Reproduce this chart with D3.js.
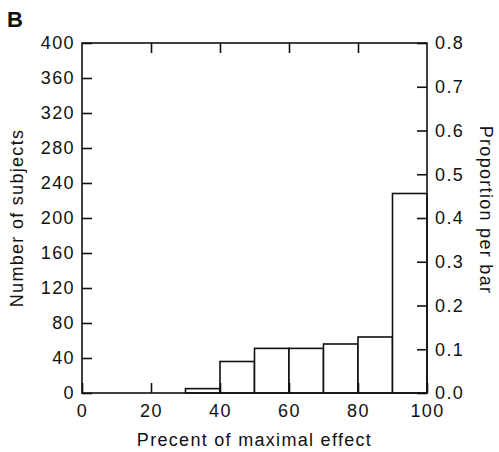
<!DOCTYPE html>
<html>
<head>
<meta charset="utf-8">
<script src="https://cdn.jsdelivr.net/npm/d3@7"></script>
<style>
  html, body { margin: 0; padding: 0; background: #fff; }
  svg { display: block; }
  .tick text { font-family: "Liberation Sans", Arial, sans-serif; font-size: 18px; letter-spacing: 1.4px; fill: #111; }
  .axis-title { font-family: "Liberation Sans", Arial, sans-serif; font-size: 18px; letter-spacing: 1.3px; fill: #111; }
</style>
</head>
<body>
<script>
// Histogram bins (percent of maximal effect) and subject counts per bin
const binStarts = [0, 10, 20, 30, 40, 50, 60, 70, 80, 90];
const binWidth = 10;
const counts = [0, 0, 0, 5, 36, 51, 51, 56, 64, 228];

// Tick values
const xTicks = [0, 20, 40, 60, 80, 100];
const yTicks = [0, 40, 80, 120, 160, 200, 240, 280, 320, 360, 400];
const propTicks = [0, 0.1, 0.2, 0.3, 0.4, 0.5, 0.6, 0.7, 0.8];

const W = 499, H = 452;
const margin = { top: 43, right: 72, bottom: 59, left: 82 };
const iw = W - margin.left - margin.right;
const ih = H - margin.top - margin.bottom;

const svg = d3.select("body").append("svg").attr("width", W).attr("height", H);
const g = svg.append("g").attr("transform", `translate(${margin.left},${margin.top})`);

const x = d3.scaleLinear().domain([0, 100]).range([0, iw]);
const y = d3.scaleLinear().domain([0, 400]).range([ih, 0]);
const yProp = d3.scaleLinear().domain([0, 0.8]).range([ih, 0]);

const stroke = "#111";
const sw = 1.6;

// Bars
g.selectAll("rect.bar")
  .data(binStarts.map((s, i) => ({ s, c: counts[i] })).filter(d => d.c > 0))
  .join("rect")
  .attr("class", "bar")
  .attr("x", d => x(d.s))
  .attr("width", d => x(d.s + binWidth) - x(d.s))
  .attr("y", d => y(d.c))
  .attr("height", d => y(0) - y(d.c))
  .attr("fill", "#fff")
  .attr("stroke", stroke)
  .attr("stroke-width", sw);

// Axes with inward ticks
function styleAxis(sel) {
  sel.select(".domain").remove();
  sel.selectAll(".tick line").attr("stroke", stroke).attr("stroke-width", sw);
}

g.append("g")
  .call(d3.axisLeft(y).tickValues(yTicks).tickSize(-10).tickPadding(7).tickFormat(d3.format("d")))
  .call(styleAxis);

g.append("g")
  .attr("transform", `translate(${iw},0)`)
  .call(d3.axisRight(yProp).tickValues(propTicks).tickSize(-10).tickPadding(8).tickFormat(d3.format(".1f")))
  .call(styleAxis);

g.append("g")
  .attr("transform", `translate(0,${ih})`)
  .call(d3.axisBottom(x).tickValues(xTicks).tickSize(-10).tickPadding(11).tickFormat(d3.format("d")))
  .call(styleAxis);

g.append("g")
  .call(d3.axisTop(x).tickValues(xTicks.slice(1, -1)).tickSize(-10).tickFormat(""))
  .call(styleAxis);

// Frame
g.append("rect")
  .attr("x", 0).attr("y", 0).attr("width", iw).attr("height", ih)
  .attr("fill", "none").attr("stroke", stroke).attr("stroke-width", sw);

// Titles
svg.append("text").attr("class", "axis-title")
  .attr("x", margin.left + iw / 2).attr("y", 446)
  .attr("text-anchor", "middle")
  .text("Precent of maximal effect");

svg.append("text").attr("class", "axis-title")
  .attr("transform", `translate(23,${margin.top + ih / 2}) rotate(-90)`)
  .attr("text-anchor", "middle")
  .text("Number of subjects");

svg.append("text").attr("class", "axis-title")
  .attr("transform", `translate(480,${margin.top + ih / 2 - 8}) rotate(90)`)
  .attr("text-anchor", "middle")
  .text("Proportion per bar");

svg.append("text")
  .attr("x", 7).attr("y", 27)
  .attr("font-family", "Liberation Sans, Arial, sans-serif")
  .attr("font-weight", "bold")
  .attr("font-size", 22)
  .attr("fill", "#111")
  .text("B");
</script>
</body>
</html>
